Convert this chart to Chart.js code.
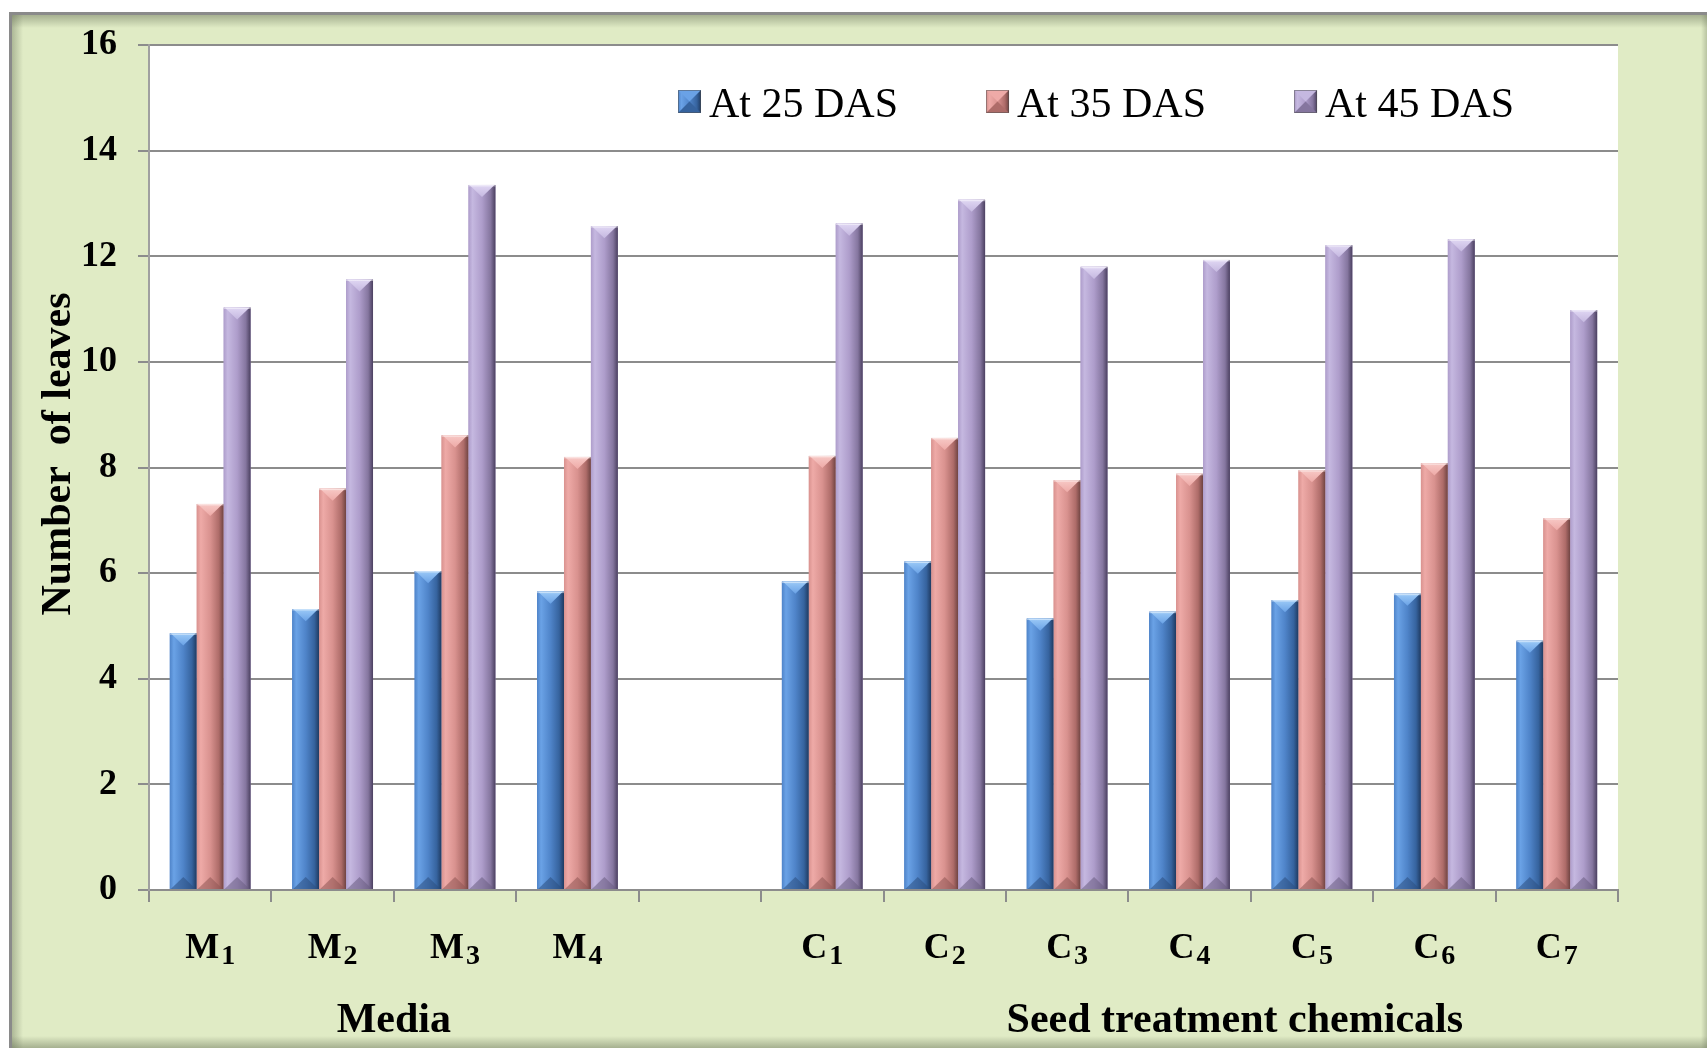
<!DOCTYPE html>
<html>
<head>
<meta charset="utf-8">
<title>Number of leaves</title>
<script src="https://cdn.jsdelivr.net/npm/chart.js@4.4.1/dist/chart.umd.min.js"></script>
<style>
  html, body { margin: 0; padding: 0; background: #ffffff; }
  canvas { display: block; }
</style>
</head>
<body>
<canvas id="leafChart" width="1707" height="1052"></canvas>
<script>
// Treatments: four growing media, a spacer, then seven seed treatment chemicals
const categories = ['M₁', 'M₂', 'M₃', 'M₄', '', 'C₁', 'C₂', 'C₃', 'C₄', 'C₅', 'C₆', 'C₇'];
const seriesNames = ['At 25 DAS', 'At 35 DAS', 'At 45 DAS'];

// Mean number of leaves per seedling
const leaves25 = [4.86, 5.32, 6.04, 5.65, null, 5.84, 6.22, 5.14, 5.27, 5.49, 5.61, 4.72];
const leaves35 = [7.31, 7.60, 8.61, 8.20, null, 8.22, 8.56, 7.76, 7.88, 7.95, 8.08, 7.04];
const leaves45 = [11.03, 11.56, 13.35, 12.57, null, 12.62, 13.07, 11.80, 11.93, 12.21, 12.32, 10.98];

const yMin = 0, yMax = 16, yStep = 2;
const yTitle = 'Number  of leaves';
const groupNames = ['Media', 'Seed treatment chemicals'];

const SERIF = "'Liberation Serif', 'Times New Roman', serif";

// Bevelled bar shading for each series
const shades = [
  { base: '#4f84c9', light: '#6aa2e6', dark: '#36639e', edge: '#1f3a60', cap: '#9ccaf7', foot: '#2c4f80' },
  { base: '#d9928f', light: '#eeaaa7', dark: '#ae6c69', edge: '#6e4341', cap: '#f7c9c6', foot: '#8f5654' },
  { base: '#ae9dcb', light: '#c5b8e0', dark: '#85769f', edge: '#4b4060', cap: '#e0d7f3', foot: '#6a5d82' }
];

function faceGradient(ctx, x0, x1, s) {
  const g = ctx.createLinearGradient(x0, 0, x1, 0);
  g.addColorStop(0, s.base);
  g.addColorStop(0.15, s.light);
  g.addColorStop(0.5, s.base);
  g.addColorStop(0.82, s.dark);
  g.addColorStop(1, s.edge);
  return g;
}

function drawBevelBar(ctx, left, right, top, bottom, s) {
  const w = right - left;
  const hgt = bottom - top;
  if (hgt <= 0) return;
  ctx.fillStyle = faceGradient(ctx, left, right, s);
  ctx.fillRect(left, top, w, hgt);
  const cx = (left + right) / 2;
  const h = Math.min(w * 0.45, hgt / 2);
  // sloped top facet
  const tg = ctx.createLinearGradient(0, top, 0, top + h);
  tg.addColorStop(0, s.cap);
  tg.addColorStop(1, s.light);
  ctx.beginPath();
  ctx.moveTo(left + 1, top);
  ctx.lineTo(right - 1, top);
  ctx.lineTo(cx, top + h);
  ctx.closePath();
  ctx.fillStyle = tg;
  ctx.fill();
  // sloped bottom facet
  ctx.beginPath();
  ctx.moveTo(left + 1, bottom);
  ctx.lineTo(right - 1, bottom);
  ctx.lineTo(cx, bottom - h);
  ctx.closePath();
  ctx.fillStyle = s.foot;
  ctx.globalAlpha = 0.55;
  ctx.fill();
  ctx.globalAlpha = 1;
  // thin light rim along the top edge
  ctx.fillStyle = 'rgba(255,255,255,0.45)';
  ctx.fillRect(left, top, w, 1.5);
}

// Green panel with a soft inner shadow and a white plotting area
const panelPlugin = {
  id: 'panel',
  beforeDraw(chart) {
    const ctx = chart.ctx;
    const W = chart.width, H = chart.height;
    const L = 9, T = 12, B = 1048;
    ctx.save();
    ctx.fillStyle = '#ffffff';
    ctx.fillRect(0, 0, W, H);
    ctx.fillStyle = '#e0ebc5';
    ctx.fillRect(L, T, W - L, B - T);
    let g = ctx.createLinearGradient(0, T, 0, T + 16);
    g.addColorStop(0, 'rgba(95,105,80,0.55)');
    g.addColorStop(1, 'rgba(95,105,80,0)');
    ctx.fillStyle = g;
    ctx.fillRect(L, T, W - L, 16);
    g = ctx.createLinearGradient(L, 0, L + 14, 0);
    g.addColorStop(0, 'rgba(95,105,80,0.5)');
    g.addColorStop(1, 'rgba(95,105,80,0)');
    ctx.fillStyle = g;
    ctx.fillRect(L, T, 14, B - T);
    g = ctx.createLinearGradient(0, B, 0, B - 12);
    g.addColorStop(0, 'rgba(95,105,80,0.45)');
    g.addColorStop(1, 'rgba(95,105,80,0)');
    ctx.fillStyle = g;
    ctx.fillRect(L, B - 12, W - L, 12);
    g = ctx.createLinearGradient(W, 0, W - 6, 0);
    g.addColorStop(0, 'rgba(95,105,80,0.3)');
    g.addColorStop(1, 'rgba(95,105,80,0)');
    ctx.fillStyle = g;
    ctx.fillRect(W - 6, T, 6, B - T);
    ctx.strokeStyle = '#8a8a8a';
    ctx.lineWidth = 3;
    ctx.beginPath();
    ctx.moveTo(W, T + 1.5);
    ctx.lineTo(L + 1.5, T + 1.5);
    ctx.lineTo(L + 1.5, B);
    ctx.stroke();
    const a = chart.chartArea;
    ctx.fillStyle = '#ffffff';
    ctx.fillRect(a.left, a.top, a.right - a.left, a.bottom - a.top);
    ctx.restore();
  }
};

// Shaded, bevelled bars painted over the library's bar rectangles
const bevelPlugin = {
  id: 'bevel',
  afterDatasetsDraw(chart) {
    const ctx = chart.ctx;
    ctx.save();
    chart.data.datasets.forEach((ds, di) => {
      const meta = chart.getDatasetMeta(di);
      meta.data.forEach((el) => {
        if (el.skip || !isFinite(el.y) || !isFinite(el.base)) return;
        const left = el.x - el.width / 2;
        const right = el.x + el.width / 2;
        drawBevelBar(ctx, left, right, Math.min(el.y, el.base), Math.max(el.y, el.base), shades[di]);
      });
    });
    ctx.restore();
  }
};

// Legend inside the plot, axis title, category labels with subscripts, group names
const textPlugin = {
  id: 'texts',
  afterDraw(chart) {
    const ctx = chart.ctx;
    const a = chart.chartArea;
    const xs = chart.scales.x;
    ctx.save();

    // legend
    ctx.font = '42px ' + SERIF;
    ctx.textBaseline = 'alphabetic';
    ctx.textAlign = 'left';
    let lx = a.left + 529;
    const box = 23, boxTop = 90, textBase = 117;
    chart.data.datasets.forEach((ds, di) => {
      const s = shades[di];
      ctx.fillStyle = faceGradient(ctx, lx, lx + box, s);
      ctx.fillRect(lx, boxTop, box, box);
      const c = lx + box / 2;
      ctx.beginPath();
      ctx.moveTo(lx, boxTop); ctx.lineTo(lx + box, boxTop); ctx.lineTo(c, boxTop + box / 2); ctx.closePath();
      ctx.fillStyle = s.light; ctx.fill();
      ctx.beginPath();
      ctx.moveTo(lx, boxTop + box); ctx.lineTo(lx + box, boxTop + box); ctx.lineTo(c, boxTop + box / 2); ctx.closePath();
      ctx.fillStyle = s.dark; ctx.fill();
      ctx.strokeStyle = 'rgba(80,80,80,0.5)';
      ctx.lineWidth = 1;
      ctx.strokeRect(lx + 0.5, boxTop + 0.5, box - 1, box - 1);
      ctx.fillStyle = '#000000';
      const tx = lx + box + 8;
      ctx.fillText(ds.label, tx, textBase);
      lx = tx + ctx.measureText(ds.label).width + 88;
    });

    // y axis title
    ctx.save();
    ctx.translate(70, 454);
    ctx.rotate(-Math.PI / 2);
    ctx.font = 'bold 42px ' + SERIF;
    ctx.textAlign = 'center';
    ctx.textBaseline = 'alphabetic';
    ctx.fillStyle = '#000000';
    ctx.fillText(yTitle, 0, 0);
    ctx.restore();

    // category labels: letter with a lowered, smaller digit
    ctx.fillStyle = '#000000';
    ctx.textAlign = 'left';
    ctx.textBaseline = 'alphabetic';
    categories.forEach((lab, i) => {
      if (!lab) return;
      const main = lab.replace(/[\u2080-\u2089]/g, '');
      const sub = lab.replace(/[^\u2080-\u2089]/g, '')
        .split('').map(ch => String.fromCharCode(ch.charCodeAt(0) - 0x2080 + 48)).join('');
      ctx.font = 'bold 36px ' + SERIF;
      const wMain = ctx.measureText(main).width;
      ctx.font = 'bold 28px ' + SERIF;
      const wSub = ctx.measureText(sub).width;
      const gap = 2;
      const cx = xs.getPixelForValue(i);
      const x0 = cx - (wMain + gap + wSub) / 2;
      ctx.font = 'bold 36px ' + SERIF;
      ctx.fillText(main, x0, 958);
      ctx.font = 'bold 28px ' + SERIF;
      ctx.fillText(sub, x0 + wMain + gap, 964);
    });

    // group names under the category labels
    ctx.font = 'bold 42px ' + SERIF;
    ctx.textAlign = 'center';
    ctx.fillText(groupNames[0], xs.getPixelForValue(1.5), 1032);
    ctx.fillText(groupNames[1], xs.getPixelForValue(8.37), 1032);

    ctx.restore();
  }
};

const gridGray = '#8c8c8c';

new Chart(document.getElementById('leafChart'), {
  type: 'bar',
  data: {
    labels: categories,
    datasets: [
      { label: seriesNames[0], data: leaves25, backgroundColor: shades[0].base },
      { label: seriesNames[1], data: leaves35, backgroundColor: shades[1].base },
      { label: seriesNames[2], data: leaves45, backgroundColor: shades[2].base }
    ]
  },
  options: {
    responsive: false,
    devicePixelRatio: 1,
    animation: false,
    layout: { padding: { left: 0, top: 45, right: 89, bottom: 0 } },
    datasets: { bar: { categoryPercentage: 0.66, barPercentage: 1.0, borderWidth: 0 } },
    plugins: {
      legend: { display: false },
      title: { display: false },
      tooltip: { enabled: false }
    },
    scales: {
      x: {
        offset: true,
        grid: {
          display: true,
          offset: true,
          drawOnChartArea: false,
          drawTicks: true,
          tickLength: 12,
          color: gridGray,
          lineWidth: 2
        },
        border: { display: true, color: gridGray, width: 2 },
        ticks: { display: false },
        afterFit(scale) { scale.height = 162; }
      },
      y: {
        min: yMin,
        max: yMax,
        ticks: {
          stepSize: yStep,
          color: '#000000',
          padding: 21,
          font: { family: SERIF, size: 36, weight: 'bold' }
        },
        grid: {
          color: gridGray,
          lineWidth: 2,
          drawTicks: true,
          tickLength: 11
        },
        border: { display: true, color: '#a0a0a0', width: 2 },
        afterFit(scale) { scale.width = 149; }
      }
    }
  },
  plugins: [panelPlugin, bevelPlugin, textPlugin]
});
</script>
</body>
</html>
